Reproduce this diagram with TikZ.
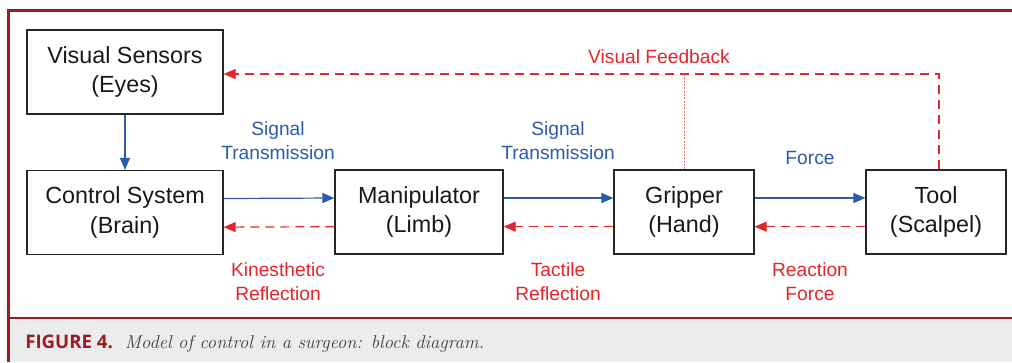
\documentclass[tikz,border=0pt]{standalone}
\usepackage{fontspec}
\newfontfamily\arial{Liberation Sans}
\newfontfamily\capsans{Open Sans}
\usetikzlibrary{arrows.meta}
\definecolor{sigblue}{RGB}{43,92,171}
\definecolor{fbred}{RGB}{232,35,42}
\definecolor{framered}{RGB}{158,27,35}
\definecolor{capgray}{RGB}{235,236,238}

\begin{document}
\begin{tikzpicture}[x=0.75pt,y=-0.75pt,
	block/.style={draw=black!85,line width=0.9pt,align=center,text=black!90,
		font=\arial\fontsize{17.5}{22}\selectfont,minimum height=63pt},
	sig/.style={draw=sigblue,line width=0.9pt,-{Triangle[length=9pt,width=7.5pt]}},
	refl/.style={draw=fbred,line width=0.9pt,dash pattern=on 6.75pt off 4.5pt,
		-{Triangle[length=9pt,width=7.5pt]}},
	sigtext/.style={text=sigblue,align=center,font=\arial\fontsize{14.4}{18}\selectfont},
	refltext/.style={text=fbred,align=center,font=\arial\fontsize{14.4}{18}\selectfont}]
			\useasboundingbox (0,0) rectangle (1012,362);
			%%%%% FRAME %%%%%
			\fill[capgray] (9,318) rectangle (1012,362);
			\draw[framered,line width=1.5pt] (9,318) -- (1012,318);
			\draw[framered,line width=2.25pt] (8,362) -- (8,10.5) -- (1012,10.5);
			\node[anchor=west,inner sep=0pt] (caption) at (25,344)
				{{\capsans\bfseries\fontsize{14}{16}\selectfont\color{framered}FIGURE 4.}\hspace{9pt}%
				{\color{black!75}\itshape\fontsize{13.9}{16}\selectfont Model of control in a surgeon: block diagram.}};
			
			%%%%% BLOCKS %%%%%
			\node[block,minimum width=147pt] (eyes) at (125,72) {Visual Sensors\\(Eyes)};
			\node[block,minimum width=147pt] (brain) at (125,212.5) {Control System\\(Brain)};
			\node[block,minimum width=126pt] (limb) at (419,212) {Manipulator\\(Limb)};
			\node[block,minimum width=105pt] (hand) at (684,212) {Gripper\\(Hand)};
			\node[block,minimum width=105pt] (tool) at (936,212) {Tool\\(Scalpel)};
			
			%%%%% SIGNALS %%%%%
			\draw[sig] (eyes) -- (brain);
			\draw[sig] ([yshift=10.5pt]brain.east) -- ([yshift=10.5pt]limb.west);
			\draw[sig] ([yshift=10.5pt]limb.east) -- ([yshift=10.5pt]hand.west);
			\draw[sig] ([yshift=10.5pt]hand.east) -- ([yshift=10.5pt]tool.west);
			
			%%%%% FEEDBACK %%%%%
			\draw[refl] ([yshift=-11pt]limb.west) -- ([yshift=-11pt]brain.east);
			\draw[refl] ([yshift=-11pt]hand.west) -- ([yshift=-11pt]limb.east);
			\draw[refl] ([yshift=-11pt]tool.west) -- ([yshift=-11pt]hand.east);
			\coordinate (fb) at ([yshift=-1.5pt]eyes.east);
			\draw[refl] ([xshift=2.25pt]tool.north) |- (fb);
			\draw[fbred!70,line width=0.5pt,dash pattern=on 1.5pt off 1pt] (hand.north) -- (hand.north |- fb);
			
			%%%%% LABELS %%%%%
			\node[refltext] (vfb) at (659,57) {Visual Feedback};
			\node[sigtext] (sigA) at (278,141) {Signal\\Transmission};
			\node[sigtext] (sigB) at (558,141) {Signal\\Transmission};
			\node[sigtext] (force) at (810,158) {Force};
			\node[refltext] (kin) at (278,282) {Kinesthetic\\Reflection};
			\node[refltext] (tac) at (558,282) {Tactile\\Reflection};
			\node[refltext] (react) at (810,282) {Reaction\\Force};
		\end{tikzpicture}
\end{document}
